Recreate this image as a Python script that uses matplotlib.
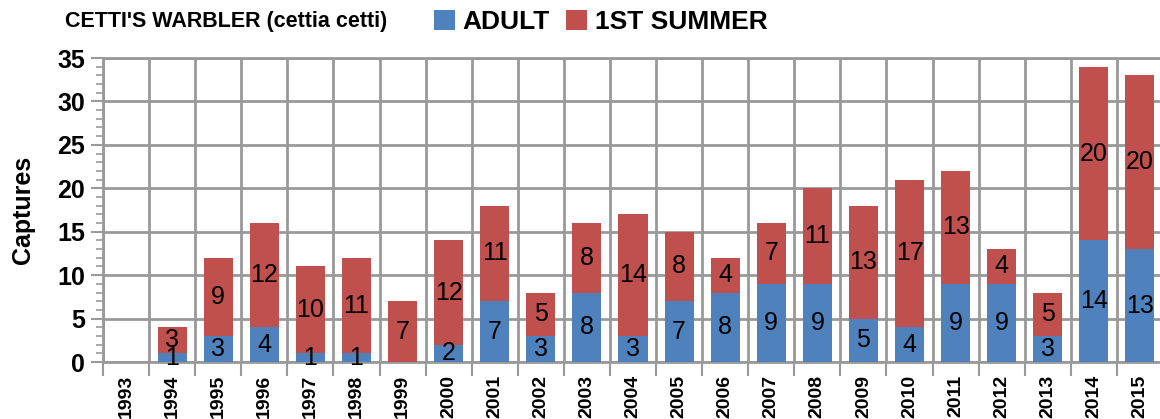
import numpy as np
import matplotlib
matplotlib.use("Agg")
import matplotlib.pyplot as plt
from matplotlib.ticker import MultipleLocator, FixedLocator

plt.rcParams['font.family'] = ['Liberation Sans', 'DejaVu Sans']

years = [str(y) for y in range(1993, 2016)]
adult = [0, 1, 3, 4, 1, 1, 0, 2, 7, 3, 8, 3, 7, 8, 9, 9, 5, 4, 9, 9, 3, 14, 13]
first_summer = [0, 3, 9, 12, 10, 11, 7, 12, 11, 5, 8, 14, 8, 4, 7, 11, 13, 17, 13, 4, 5, 20, 20]

BLUE = '#4F81BD'
RED = '#C0504D'
GRID = '#999999'

fig = plt.figure(figsize=(11.6, 4.19), dpi=100)
ax = fig.add_axes([103 / 1160, 57 / 419, 1060 / 1160, 304 / 419])

x = np.arange(len(years))
w = 0.63
ax.bar(x, adult, width=w, color=BLUE, zorder=3, label='ADULT')
ax.bar(x, first_summer, width=w, bottom=adult, color=RED, zorder=3, label='1ST SUMMER')

# segment labels
for i in range(len(years)):
    if adult[i] > 0:
        ax.text(x[i], adult[i] / 2, str(adult[i]), ha='center', va='center',
                fontsize=18, zorder=4)
    if first_summer[i] > 0:
        ax.text(x[i], adult[i] + first_summer[i] / 2, str(first_summer[i]),
                ha='center', va='center', fontsize=18, zorder=4)

ax.set_xlim(-0.5, len(years) - 0.5)
ax.set_ylim(0, 35)

# y axis ticks
ax.yaxis.set_major_locator(MultipleLocator(5))
ax.yaxis.set_minor_locator(MultipleLocator(1))
ax.tick_params(axis='y', which='major', length=9, width=1.5, color=GRID,
               labelsize=18, pad=4)
ax.tick_params(axis='y', which='minor', length=5, width=1.2, color=GRID)
for lab in ax.get_yticklabels():
    lab.set_fontweight('bold')

# x axis: labels at centres, tick marks at boundaries
ax.set_xticks(x)
ax.set_xticklabels(years, rotation=90, fontsize=14, fontweight='bold')
ax.xaxis.set_minor_locator(FixedLocator(np.arange(-0.5, len(years), 1.0)))
ax.tick_params(axis='x', which='major', length=0, pad=9)
ax.tick_params(axis='x', which='minor', length=10, width=1.5, color=GRID)

# grid
ax.grid(axis='y', which='major', color=GRID, linewidth=2, zorder=0)
ax.grid(axis='x', which='minor', color=GRID, linewidth=2, zorder=0)
ax.grid(axis='x', which='major', visible=False)
for s in ax.spines.values():
    s.set_color(GRID)
    s.set_linewidth(2)
ax.spines['right'].set_visible(False)

ax.set_ylabel('Captures', fontsize=18, fontweight='bold', labelpad=16)

fig.text(65 / 1160, 1 - 22 / 419, "CETTI'S WARBLER (cettia cetti)", fontsize=15.5,
         fontweight='bold', va='center', ha='left')
fig.legend(loc='center left', bbox_to_anchor=(410 / 1160, 1 - 22 / 419), ncol=2,
           frameon=False, prop={'size': 19, 'weight': 'bold'}, handlelength=0.8,
           handleheight=0.8, columnspacing=0.6, handletextpad=0.3)

fig.savefig('out.png', dpi=100)
